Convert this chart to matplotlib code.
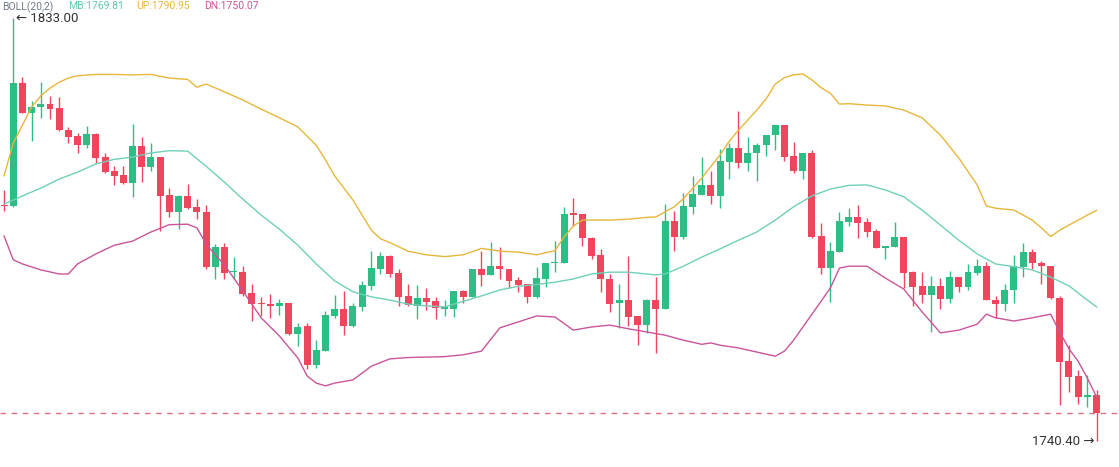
import matplotlib.pyplot as plt

# OHLC candles (price units)
opens = [1792.2, 1791.9, 1818.9, 1812.3, 1813.5, 1814.2, 1813.3, 1808.5, 1807.2, 1805.3,
         1807.7, 1802.6, 1799.6, 1798.7, 1797.0, 1805.0, 1800.5, 1802.6, 1794.3, 1790.6,
         1794.1, 1791.7, 1790.6, 1778.6, 1782.9, 1777.4, 1777.4, 1772.8, 1770.7, 1770.4,
         1769.9, 1770.6, 1763.9, 1765.5, 1757.0, 1760.2, 1767.8, 1769.3, 1765.5, 1769.8,
         1774.4, 1778.2, 1780.9, 1777.3, 1772.2, 1770.0, 1771.8, 1771.1, 1769.4, 1769.4,
         1773.3, 1772.0, 1778.1, 1776.8, 1778.7, 1778.1, 1775.7, 1774.7, 1771.9, 1776.0,
         1779.3, 1779.5, 1790.3, 1790.1, 1784.9, 1781.2, 1775.9, 1770.6, 1771.3, 1767.8,
         1765.9, 1771.3, 1769.4, 1788.6, 1785.0, 1791.7, 1794.4, 1796.5, 1794.1, 1801.6,
         1804.5, 1801.2, 1803.6, 1805.2, 1807.4, 1809.6, 1802.8, 1799.6, 1803.6, 1785.3,
         1778.4, 1781.9, 1788.4, 1789.5, 1788.4, 1786.4, 1782.6, 1783.0, 1785.0, 1777.5,
         1774.4, 1772.5, 1774.4, 1771.6, 1776.3, 1774.1, 1777.3, 1778.7, 1771.3, 1770.4,
         1773.5, 1778.6, 1781.8, 1779.5, 1778.7, 1771.8, 1757.9, 1754.7, 1750.0, 1750.6]

highs = [1795.4, 1833.0, 1820.1, 1814.9, 1819.0, 1816.0, 1815.7, 1809.1, 1807.8, 1809.4,
         1807.8, 1803.6, 1800.6, 1800.6, 1809.8, 1806.9, 1805.7, 1802.7, 1795.8, 1794.3,
         1796.7, 1793.4, 1792.1, 1783.6, 1783.8, 1780.7, 1778.7, 1774.7, 1771.9, 1772.6,
         1771.5, 1770.7, 1766.3, 1766.3, 1762.5, 1769.0, 1772.5, 1773.3, 1770.7, 1775.5,
         1782.1, 1781.9, 1781.2, 1778.0, 1774.7, 1774.5, 1773.9, 1771.9, 1771.2, 1773.3,
         1773.5, 1778.1, 1782.1, 1783.9, 1782.8, 1778.2, 1776.4, 1774.8, 1778.5, 1779.4,
         1784.2, 1791.6, 1793.7, 1790.2, 1785.0, 1782.4, 1777.0, 1774.7, 1780.9, 1767.9,
         1771.6, 1776.4, 1792.4, 1790.9, 1794.8, 1798.5, 1802.7, 1799.6, 1804.4, 1805.7,
         1812.8, 1806.9, 1805.6, 1807.4, 1809.7, 1809.7, 1806.0, 1803.6, 1804.2, 1788.2,
         1784.1, 1790.5, 1791.4, 1792.1, 1789.2, 1786.8, 1783.1, 1788.4, 1785.1, 1777.6,
         1777.5, 1776.6, 1776.1, 1777.7, 1776.4, 1779.1, 1780.2, 1779.7, 1772.2, 1774.7,
         1781.2, 1783.8, 1782.4, 1779.9, 1778.8, 1772.2, 1761.4, 1756.0, 1754.9, 1751.7]

lows = [1790.8, 1791.7, 1812.2, 1806.1, 1811.2, 1811.0, 1808.3, 1805.6, 1803.6, 1804.5,
        1801.2, 1799.2, 1796.5, 1796.7, 1793.8, 1797.2, 1799.6, 1786.5, 1789.4, 1786.8,
        1791.2, 1789.1, 1778.2, 1775.8, 1776.0, 1776.0, 1772.2, 1766.6, 1767.8, 1767.4,
        1768.0, 1763.7, 1761.2, 1756.3, 1756.5, 1760.1, 1767.3, 1763.6, 1765.4, 1769.0,
        1773.5, 1777.0, 1776.4, 1770.0, 1770.0, 1767.1, 1769.1, 1767.1, 1767.7, 1767.5,
        1770.7, 1771.9, 1774.4, 1776.7, 1775.8, 1774.0, 1773.1, 1770.7, 1771.8, 1774.2,
        1777.5, 1779.4, 1787.4, 1783.1, 1780.3, 1773.1, 1768.7, 1765.1, 1765.5, 1761.4,
        1764.0, 1759.6, 1769.3, 1782.1, 1784.6, 1790.1, 1794.3, 1792.3, 1791.4, 1797.9,
        1800.3, 1799.6, 1797.4, 1802.9, 1804.2, 1801.7, 1799.2, 1797.8, 1784.9, 1776.9,
        1770.9, 1781.8, 1787.6, 1784.8, 1785.0, 1782.6, 1780.3, 1782.9, 1773.9, 1770.0,
        1770.7, 1764.4, 1769.3, 1770.7, 1773.0, 1773.6, 1776.8, 1771.2, 1767.3, 1769.0,
        1770.7, 1776.3, 1778.2, 1774.8, 1771.6, 1748.3, 1751.2, 1748.5, 1747.8, 1740.4]

closes = [1791.9, 1818.9, 1812.3, 1813.5, 1814.2, 1813.2, 1808.5, 1807.1, 1805.3, 1807.7,
          1802.5, 1799.4, 1798.5, 1797.0, 1805.0, 1800.5, 1802.6, 1794.1, 1790.6, 1794.1,
          1791.5, 1790.6, 1778.6, 1782.8, 1777.3, 1777.7, 1772.6, 1770.5, 1770.4, 1769.9,
          1770.6, 1763.9, 1765.3, 1757.0, 1760.4, 1768.0, 1769.3, 1765.5, 1770.0, 1774.6,
          1778.3, 1780.9, 1777.0, 1772.0, 1770.2, 1771.8, 1770.9, 1769.5, 1769.8, 1773.3,
          1772.0, 1778.1, 1776.8, 1778.7, 1778.0, 1775.5, 1774.6, 1772.0, 1776.1, 1779.3,
          1779.7, 1790.1, 1790.0, 1784.8, 1781.0, 1775.8, 1770.4, 1771.3, 1767.6, 1765.9,
          1771.3, 1769.4, 1788.6, 1785.0, 1791.9, 1794.5, 1796.5, 1794.1, 1801.7, 1804.5,
          1801.2, 1803.6, 1805.2, 1807.4, 1809.6, 1802.7, 1799.6, 1803.6, 1785.2, 1778.4,
          1782.0, 1788.6, 1789.5, 1788.2, 1786.3, 1782.6, 1783.1, 1785.0, 1777.3, 1774.2,
          1772.5, 1774.4, 1771.6, 1776.3, 1774.1, 1777.4, 1778.7, 1771.3, 1770.4, 1773.5,
          1778.7, 1781.8, 1779.3, 1778.7, 1771.7, 1757.8, 1754.5, 1750.0, 1750.6, 1746.6]

# Bollinger bands (20,2), sampled at candle indices
up_idx = [0, 1, 2, 3, 4, 5, 6, 7, 8, 10, 12, 14, 16, 18, 20, 21, 22, 24, 26, 28, 30, 32,
          34, 35, 36, 38, 40, 41, 42, 44, 46, 48, 50, 52, 54, 56, 58, 60, 61, 62, 63, 64,
          66, 68, 70, 71, 72, 73, 74, 76, 78, 79, 80, 82, 83, 84, 85, 86, 87, 88, 89, 90,
          91, 92, 94, 96, 98, 100, 102, 104, 106, 107, 108, 110, 112, 113, 114, 115, 116,
          118, 119]
up_val = [1798.5, 1805.7, 1809.6, 1813.6, 1816.0, 1817.7, 1819.0, 1819.9, 1820.4, 1820.7,
          1820.7, 1820.6, 1820.7, 1819.9, 1819.6, 1817.9, 1818.6, 1816.9, 1815.1, 1813.1,
          1811.2, 1809.2, 1805.2, 1802.0, 1798.5, 1793.2, 1786.6, 1784.7, 1783.9, 1782.0,
          1781.2, 1780.8, 1781.2, 1782.6, 1782.0, 1781.8, 1781.2, 1782.1, 1785.1, 1787.5,
          1788.8, 1788.8, 1788.8, 1789.0, 1789.4, 1789.5, 1790.6, 1791.7, 1793.5, 1798.0,
          1803.1, 1806.1, 1808.5, 1812.9, 1815.3, 1818.6, 1820.0, 1820.6, 1820.8, 1819.5,
          1817.8, 1816.6, 1814.2, 1814.3, 1814.0, 1813.8, 1812.9, 1811.2, 1807.4, 1802.4,
          1796.5, 1791.9, 1791.4, 1791.0, 1788.8, 1787.1, 1785.2, 1786.6, 1787.7, 1789.9,
          1790.9]

mid_idx = [0, 1, 2, 4, 6, 8, 10, 12, 14, 16, 18, 20, 22, 24, 26, 28, 30, 32, 34, 36, 38,
           40, 42, 44, 46, 48, 50, 52, 54, 56, 58, 60, 62, 64, 66, 68, 70, 71, 72, 74, 76,
           78, 80, 82, 84, 86, 88, 90, 92, 94, 96, 98, 100, 102, 104, 106, 108, 110, 112,
           114, 116, 118, 119]
mid_val = [1792.3, 1793.2, 1794.1, 1795.8, 1797.8, 1799.3, 1801.1, 1802.1, 1802.6, 1803.5,
           1804.0, 1803.9, 1800.6, 1797.1, 1793.4, 1789.9, 1786.8, 1783.3, 1779.2, 1775.5,
           1773.1, 1772.0, 1771.3, 1770.4, 1770.0, 1769.8, 1771.0, 1772.2, 1773.5, 1774.3,
           1774.7, 1775.2, 1775.9, 1777.0, 1777.4, 1777.4, 1777.0, 1776.8, 1777.0, 1778.7,
           1780.7, 1782.5, 1784.4, 1786.2, 1788.8, 1791.7, 1794.1, 1795.6, 1796.4, 1796.5,
           1795.4, 1793.9, 1791.0, 1787.7, 1784.4, 1781.4, 1779.2, 1778.6, 1777.9, 1776.3,
           1774.4, 1771.3, 1769.8]

dn_idx = [0, 1, 2, 4, 6, 7, 8, 10, 12, 14, 16, 18, 20, 21, 22, 23, 24, 26, 28, 30, 32, 33,
          34, 35, 36, 38, 40, 42, 44, 46, 48, 50, 52, 54, 56, 58, 60, 62, 64, 66, 68, 70,
          72, 74, 76, 77, 78, 80, 82, 84, 85, 86, 88, 90, 91, 92, 94, 96, 98, 100, 102,
          104, 106, 107, 108, 110, 112, 114, 115, 116, 117, 118, 119]
dn_val = [1785.3, 1780.1, 1779.2, 1777.9, 1777.0, 1777.0, 1779.2, 1781.4, 1783.3, 1784.2,
          1786.2, 1787.8, 1787.9, 1787.1, 1783.6, 1781.2, 1779.0, 1773.3, 1767.4, 1763.4,
          1758.6, 1754.7, 1753.1, 1752.5, 1753.1, 1753.8, 1756.8, 1758.4, 1758.7, 1758.8,
          1758.9, 1759.3, 1760.1, 1765.2, 1766.5, 1767.8, 1767.6, 1764.7, 1765.4, 1765.8,
          1765.0, 1764.3, 1763.6, 1762.5, 1761.6, 1761.9, 1761.4, 1760.8, 1759.9, 1759.0,
          1760.1, 1762.5, 1768.2, 1773.9, 1778.3, 1778.7, 1778.7, 1776.1, 1773.7, 1768.7,
          1764.1, 1764.7, 1766.0, 1768.2, 1767.4, 1766.7, 1767.4, 1768.2, 1764.3, 1760.6,
          1757.9, 1754.2, 1750.1]

legend_parts = [("BOLL(20,2)", "#707a8a"), ("MB:1769.81", "#5fc9b0"),
                ("UP:1790.95", "#e7b73c"), ("DN:1750.07", "#c9559a")]

GREEN = "#2ebd85"
RED = "#f0465d"
FONT = ["Roboto", "DejaVu Sans"]

fig = plt.figure(figsize=(11.19, 4.67), dpi=100)
ax = fig.add_axes([0, 0, 1, 1])

n = len(opens)
xs = list(range(n))
colors = [GREEN if c >= o else RED for o, c in zip(opens, closes)]
bottoms = [min(o, c) for o, c in zip(opens, closes)]
heights = [max(abs(c - o), 0.25) for o, c in zip(opens, closes)]

ax.vlines(xs, lows, highs, colors=colors, linewidth=1.0, zorder=2)
ax.bar(xs, heights, bottom=bottoms, width=0.76, color=colors, linewidth=0, zorder=3)

ax.plot(up_idx, up_val, color="#e7b73c", lw=1.0, zorder=4)
ax.plot(mid_idx, mid_val, color="#6fd0b8", lw=1.0, zorder=4)
ax.plot(dn_idx, dn_val, color="#c9559a", lw=1.0, zorder=4)

# last price dashed line
ax.axhline(closes[-1], color="#e0707e", lw=1.0, ls=(0, (4, 4)), zorder=1)

# high / low markers
hi_i = highs.index(max(highs))
lo_i = lows.index(min(lows))
ax.annotate("\u2190 %.2f" % highs[hi_i], xy=(hi_i, highs[hi_i]), xytext=(3, 0),
            textcoords="offset pixels", ha="left", va="center",
            fontsize=9.5, color="#333333", family=FONT)
ax.annotate("%.2f \u2192" % lows[lo_i], xy=(lo_i, lows[lo_i]), xytext=(-2, 0),
            textcoords="offset pixels", ha="right", va="center",
            fontsize=9.5, color="#333333", family=FONT)

# indicator legend along the top edge
x_px = [2, 68, 136, 204]
for (txt, col), xp in zip(legend_parts, x_px):
    fig.text(xp / 1119, 1 - 1 / 467, txt, color=col, fontsize=7.5,
             ha="left", va="top", family=FONT)

ax.set_xlim(-0.447, 121.45)
ax.set_ylim(1734.73, 1837.0)
ax.axis("off")

fig.savefig("out.png", dpi=100, facecolor="white")
